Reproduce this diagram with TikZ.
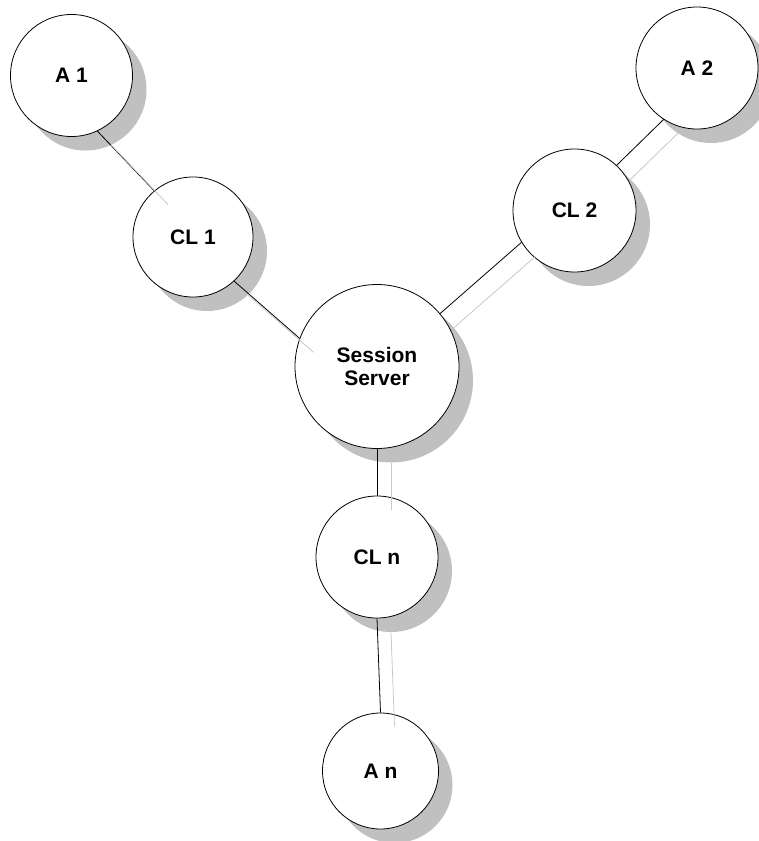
\documentclass[tikz,border=0pt]{standalone}
\usepackage{fontspec}
\setmainfont{Liberation Sans}
\usetikzlibrary{shadows}
\definecolor{shadowgray}{RGB}{192,192,192}
\definecolor{shadowline}{RGB}{200,200,200}
\tikzset{
  station/.style={circle, draw=black, line width=0.8pt, fill=white, inner sep=0pt,
    font=\bfseries\fontsize{21}{23.5}\selectfont, align=center,
    drop shadow={shadow xshift=14pt, shadow yshift=-14pt, fill=shadowgray, opacity=1}},
  link/.style={draw=black, line width=0.8pt},
  linkshadow/.style={draw=shadowline, line width=0.8pt}
}
\begin{document}
\begin{tikzpicture}[x=1pt,y=-1pt]
  \useasboundingbox (0,0) rectangle (759,841);
  % stations
  \node[station, minimum size=122pt] (A1)  at (71.5,75.5)  {A 1};
  \node[station, minimum size=120pt] (CL1) at (193,237)    {CL 1};
  \node[station, minimum size=122pt] (A2)  at (697,68)     {A 2};
  \node[station, minimum size=123pt] (CL2) at (574.5,210.5){CL 2};
  \node[station, minimum size=164pt] (SS)  at (377,366.5)  {Session\\Server};
  \node[station, minimum size=122pt] (CLn) at (377,557)    {CL n};
  \node[station, minimum size=116pt] (An)  at (380.5,771)  {A n};
  % connectors
  \draw[link] (A1.-65)  -- (CL1.130);
  \draw[link] (CL1.-47) -- (SS.160);
  \draw[link] (SS.40)   -- (CL2.-149);
  \draw[link] (CL2.47)  -- (A2.-123);
  \draw[link] (SS.-90)  -- (CLn.90);
  \draw[link] (CLn.-90) -- (An.90);
  % connector shadows
  \draw[linkshadow] ([shift={(14,14)}]A1.-65)  -- ([shift={(14,14)}]CL1.130);
  \draw[linkshadow] ([shift={(14,14)}]CL1.-47) -- ([shift={(14,14)}]SS.160);
  \draw[linkshadow] ([shift={(14,14)}]SS.40)   -- ([shift={(14,14)}]CL2.-149);
  \draw[linkshadow] ([shift={(14,14)}]CL2.47)  -- ([shift={(14,14)}]A2.-123);
  \draw[linkshadow] ([shift={(14,14)}]SS.-90)  -- ([shift={(14,14)}]CLn.90);
  \draw[linkshadow] ([shift={(14,14)}]CLn.-90) -- ([shift={(14,14)}]An.90);
\end{tikzpicture}
\end{document}
